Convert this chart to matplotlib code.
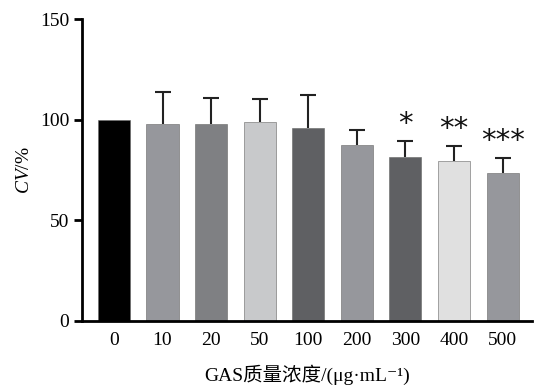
import numpy as np
import matplotlib
matplotlib.use("Agg")
import matplotlib.pyplot as plt

plt.rcParams['font.family'] = ['Liberation Serif', 'Noto Sans CJK SC', 'DejaVu Sans']
plt.rcParams['mathtext.fontset'] = 'custom'
plt.rcParams['mathtext.rm'] = 'Liberation Serif'
plt.rcParams['mathtext.it'] = 'Liberation Serif:italic'

# data
labels = ['0', '10', '20', '50', '100', '200', '300', '400', '500']
means = [100, 98, 98, 99, 96, 87.6, 81.7, 79.6, 73.5]
errs = [0, 15.6, 12.8, 11.3, 16.4, 7.1, 7.8, 7.1, 7.7]
stars = ['', '', '', '', '', '', '*', '**', '***']
colors = ['#000000', '#96979c', '#7f8083', '#c8c9cb', '#5f6063',
          '#96979c', '#5f6063', '#e0e0e0', '#96979c']

fig = plt.figure(figsize=(5.35, 3.9), dpi=100)
ax = fig.add_axes([0.153, 0.177, 0.841, 0.774])

x = np.arange(len(labels))
ax.bar(x, means, width=0.66, color=colors, edgecolor='#666666', linewidth=0.4, zorder=2)

# upper error bars only, skip the control (no error)
m = np.array(errs) > 0
xe = x[m]
me = np.array(means)[m]
ee = np.array(errs)[m]
eb = ax.errorbar(xe, me, yerr=[np.zeros(len(ee)), ee], fmt='none', ecolor='#222222',
                 elinewidth=1.5, capsize=5.5, capthick=1.5, zorder=1)
eb[1][0].set_visible(False)

for xi, mv, e, s in zip(x, means, errs, stars):
    if s:
        ax.text(xi, mv + e + 1.5, s, ha='center', va='bottom', fontsize=21,
                family='DejaVu Sans', color='#111111')

ax.set_xlim(-0.66, 8.6)
ax.set_ylim(0, 150)
ax.set_yticks([0, 50, 100, 150])
ax.set_xticks(x)
ax.set_xticklabels(labels)

for side in ['top', 'right']:
    ax.spines[side].set_visible(False)
for side in ['left', 'bottom']:
    ax.spines[side].set_linewidth(2)
ax.tick_params(axis='y', length=6, width=2, labelsize=14, pad=3)
ax.tick_params(axis='x', length=0, labelsize=14, pad=8)

ax.set_ylabel(r'$\mathit{CV}$/%', fontsize=14, labelpad=5)
ax.set_xlabel('GAS质量浓度/(μg·mL⁻¹)', fontsize=14, labelpad=11)

fig.savefig('out.png', dpi=100)
